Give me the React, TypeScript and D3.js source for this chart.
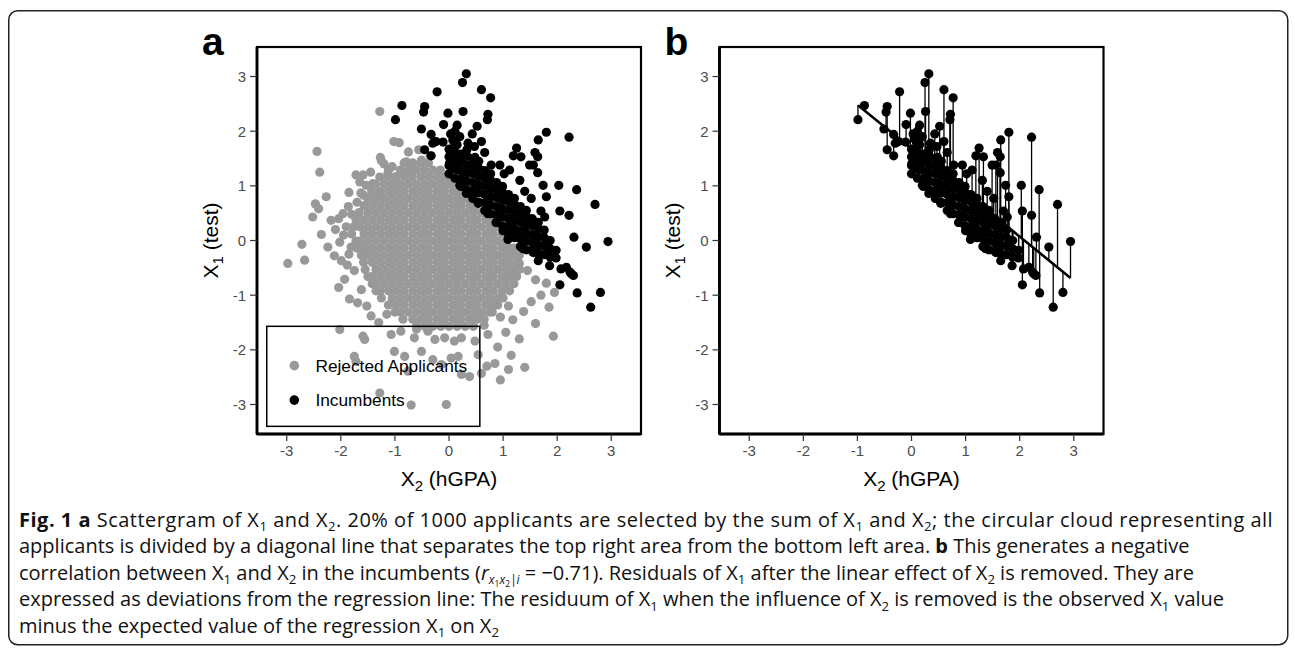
import React from "react";
import * as d3 from "d3";

// ---------- data ----------
const tickValues = [-3, -2, -1, 0, 1, 2, 3];
const legendLabels = ["Rejected Applicants", "Incumbents"];
const seriesColors = ["#999999", "#000000"];

// incumbents: [X2 (hGPA), X1 (test)] — scattered points read individually
const incumbentsScatter: [number, number][] = [
  [-0.99, 2.21], [-0.87, 2.47], [-0.45, 2.45], [-0.47, 2.35], [-0.22, 2.72], [0.32, 3.05], [0.25, 2.89],
  [0.6, 2.76], [0.77, 2.61], [-0.02, 2.33], [0.26, 2.36], [0.72, 2.31], [0.71, 2.21], [-0.1, 2.12],
  [0.15, 2.11], [-0.51, 2.04], [-0.33, 1.94], [0.52, 2.09], [-0.45, 1.66], [-0.33, 1.55], [0.01, 1.42],
  [0.07, 1.84], [0.2, 1.9], [-0.24, 1.81], [-0.11, 1.8], [0.17, 1.29], [1.8, 1.98], [2.22, 1.89],
  [1.65, 1.84], [1.25, 1.69], [1.59, 1.61], [1.19, 1.55], [1.33, 1.53], [1.64, 1.53], [1.56, 1.38],
  [1.64, 1.24], [0.94, 1.38], [1.12, 1.29], [1.31, 1.1], [1.74, 1.01], [2.03, 1.01], [2.36, 0.93],
  [2.7, 0.66], [2.05, 0.54], [2.22, 0.46], [2.94, -0.02], [2.54, -0.12], [2.31, 0.06], [2.05, -0.81],
  [2.37, -0.96], [2.8, -0.95], [2.62, -1.22], [1.52, 0.77], [1.8, 0.8], [1.7, 0.54], [1.37, -0.15],
  [1.56, -0.22], [1.65, -0.37], [1.86, -0.46], [2.17, -0.49], [2.26, -0.61], [1.15, 0.13], [1.09, 0.02],
  [0.2, 1.01], [0.32, 0.86], [0.54, 0.68], [0.72, 0.49], [0.87, 0.33], [1.0, 0.18], [1.22, 0.06],
  [1.34, -0.12], [-0.3, 1.78], [0.15, 1.75], [0.6, 1.81], [0.66, 1.61], [0.2, 1.52], [0.48, 1.52],
  [0.13, 1.41], [0.78, 1.38], [1.49, 1.38], [1.77, 0.43], [2.07, -0.52], [2.24, -0.58], [2.3, -0.64],
  [0.35, 1.78], [0.47, 1.72], [0.03, 1.95], [0.11, 2.0], [0.43, 1.95], [1.02, 1.22], [1.4, 0.9],
];

// incumbents in the dense band, read column by column: [X2, X1 values]
const incumbentsBand: [number, number[]][] = [
  [0.0, [1.22, 1.37, 1.53, 1.67]],
  [0.11, [1.14, 1.31, 1.46, 1.62, 1.76]],
  [0.22, [0.99, 1.13, 1.28, 1.44, 1.58]],
  [0.33, [0.93, 1.09, 1.24, 1.39, 1.55, 1.66]],
  [0.44, [0.77, 0.91, 1.06, 1.22, 1.36, 1.5]],
  [0.55, [0.7, 0.87, 1.02, 1.17, 1.32, 1.45]],
  [0.66, [0.55, 0.69, 0.84, 0.99, 1.14, 1.28]],
  [0.77, [0.49, 0.65, 0.8, 0.95, 1.1, 1.22]],
  [0.88, [0.33, 0.47, 0.62, 0.78, 0.92, 1.06]],
  [0.99, [0.27, 0.43, 0.58, 0.73, 0.88, 0.99]],
  [1.1, [0.11, 0.25, 0.4, 0.55, 0.71, 0.84]],
  [1.21, [0.05, 0.21, 0.36, 0.51, 0.66, 0.77]],
  [1.32, [-0.11, 0.03, 0.18, 0.34, 0.48, 0.62]],
  [1.43, [-0.17, -0.01, 0.14, 0.29, 0.44, 0.55]],
  [1.54, [-0.19, -0.04, 0.11, 0.27, 0.4]],
  [1.65, [-0.23, -0.08, 0.07, 0.22, 0.33]],
  [1.76, [-0.26, -0.1, 0.05, 0.19]],
  [1.87, [-0.3, -0.15, 0.0]],
  [1.98, [-0.32, -0.18]],
];

// rejected applicants, scattered points: [X2, X1]
const rejectedScatter: [number, number][] = [
  [-1.28, 2.36], [-2.44, 1.63], [-2.39, 1.25], [-1.27, 1.52], [-1.25, 1.46], [-1.02, 1.81], [-0.92, 1.79],
  [-0.75, 1.62], [-0.56, 1.66], [-0.79, 1.44], [-0.51, 1.47], [-2.27, 0.8], [-2.47, 0.67], [-2.41, 0.58],
  [-1.85, 0.88], [-1.72, 1.2], [-1.59, 1.2], [-1.65, 1.07], [-1.53, 1.01], [-1.58, 0.83], [-1.63, 0.87],
  [-1.41, 1.04], [-1.28, 0.89], [-1.13, 1.23], [-0.98, 1.17], [-0.82, 1.2], [-0.67, 1.26], [-2.52, 0.43],
  [-2.18, 0.37], [-2.04, 0.4], [-1.96, 0.49], [-1.8, 0.48], [-2.36, 0.11], [-2.72, -0.07], [-2.02, -0.03],
  [-1.81, -0.12], [-2.24, -0.12], [-2.98, -0.42], [-2.67, -0.36], [-2.12, -0.28], [-1.99, -0.37],
  [-2.04, -0.86], [-1.93, -0.71], [-1.84, -1.07], [-1.69, -1.14], [-1.44, -1.38], [-2.02, -1.63],
  [-1.59, -1.75], [-1.56, -1.81], [-1.75, -2.12], [-1.72, -2.21], [-1.28, -2.79], [-1.07, -1.72],
  [-1.01, -2.03], [-0.82, -2.12], [-0.76, -2.39], [-0.7, -3.01], [-0.51, -2.03], [-0.3, -2.18],
  [-0.14, -2.27], [-0.05, -3.0], [-0.89, -1.66], [-0.64, -1.78], [-0.39, -1.66], [-0.26, -1.81],
  [-0.08, -1.78], [0.1, -1.84], [0.23, -1.78], [0.04, -2.15], [0.17, -2.12], [0.23, -2.45], [0.38, -2.49],
  [0.6, -2.43], [0.48, -1.84], [0.54, -2.09], [0.72, -1.72], [0.7, -2.3], [1.3, -0.42], [1.45, -0.55],
  [1.6, -0.72], [1.8, -0.78], [1.95, -0.95], [1.7, -1.0], [1.52, -1.12], [1.85, -1.22], [1.38, -1.3],
  [1.18, -1.45], [1.6, -1.52], [1.93, -1.75], [1.05, -1.68], [1.3, -1.8], [0.9, -1.95], [1.15, -2.1],
  [0.85, -2.25], [1.1, -2.36], [1.4, -2.32], [0.95, -2.55], [-1.75, -0.55], [-1.88, -0.45],
  [-1.62, -0.9], [-1.52, -1.2], [-1.3, -1.5], [-1.15, -1.35], [-1.9, 0.25], [-1.95, 0.1], [-2.1, 0.2],
  [-0.35, 1.55], [-1.05, 1.35], [-1.86, 0.62], [-1.7, 0.7], [-1.2, 1.4], [-0.6, -1.62], [0.65, -1.55],
  [0.95, -1.4], [1.1, -1.2], [-1.85, -0.25], [-1.45, 1.25],
];

// rejected applicants, dense core read row by row: [X1, X2 values]
const rejectedCoreRows: [number, number[]][] = [
  [1.42, [-0.83, -0.67, -0.52, -0.38]],
  [1.29, [-1.12, -0.9, -0.75, -0.6, -0.45, -0.3, -0.16]],
  [1.16, [-1.28, -1.13, -0.97, -0.82, -0.68, -0.52, -0.37, -0.22, -0.08, 0.02]],
  [1.03, [-1.36, -1.2, -1.05, -0.9, -0.75, -0.6, -0.45, -0.3, -0.15, 0.0, 0.12]],
  [0.9, [-1.43, -1.27, -1.12, -0.98, -0.83, -0.67, -0.52, -0.38, -0.22, -0.08, 0.08, 0.22]],
  [0.77, [-1.5, -1.35, -1.2, -1.05, -0.9, -0.75, -0.6, -0.45, -0.3, -0.15, 0.0, 0.15, 0.3, 0.38]],
  [0.64, [-1.57, -1.42, -1.27, -1.12, -0.98, -0.83, -0.67, -0.52, -0.38, -0.22, -0.08, 0.08, 0.22, 0.38, 0.5]],
  [0.51, [-1.66, -1.5, -1.35, -1.2, -1.05, -0.9, -0.75, -0.6, -0.45, -0.3, -0.15, 0.0, 0.15, 0.3, 0.45, 0.6]],
  [0.38, [-1.72, -1.57, -1.42, -1.27, -1.12, -0.98, -0.83, -0.67, -0.52, -0.38, -0.22, -0.08, 0.08, 0.22, 0.38, 0.52, 0.68, 0.76]],
  [0.25, [-1.76, -1.65, -1.5, -1.35, -1.2, -1.05, -0.9, -0.75, -0.6, -0.45, -0.3, -0.15, 0.0, 0.15, 0.3, 0.45, 0.6, 0.75, 0.88]],
  [0.12, [-1.8, -1.57, -1.42, -1.27, -1.12, -0.98, -0.83, -0.67, -0.52, -0.38, -0.22, -0.08, 0.08, 0.22, 0.38, 0.52, 0.68, 0.82, 0.98]],
  [-0.01, [-1.72, -1.65, -1.5, -1.35, -1.2, -1.05, -0.9, -0.75, -0.6, -0.45, -0.3, -0.15, 0.0, 0.15, 0.3, 0.45, 0.6, 0.75, 0.9, 1.05]],
  [-0.14, [-1.7, -1.57, -1.42, -1.27, -1.12, -0.98, -0.83, -0.67, -0.52, -0.38, -0.22, -0.08, 0.08, 0.22, 0.38, 0.52, 0.68, 0.82, 0.98, 1.12, 1.2]],
  [-0.27, [-1.62, -1.5, -1.35, -1.2, -1.05, -0.9, -0.75, -0.6, -0.45, -0.3, -0.15, 0.0, 0.15, 0.3, 0.45, 0.6, 0.75, 0.9, 1.05, 1.2, 1.3]],
  [-0.4, [-1.58, -1.42, -1.27, -1.12, -0.98, -0.83, -0.67, -0.52, -0.38, -0.22, -0.08, 0.08, 0.22, 0.38, 0.52, 0.68, 0.82, 0.98, 1.12, 1.27]],
  [-0.53, [-1.55, -1.35, -1.2, -1.05, -0.9, -0.75, -0.6, -0.45, -0.3, -0.15, 0.0, 0.15, 0.3, 0.45, 0.6, 0.75, 0.9, 1.05, 1.2, 1.3]],
  [-0.66, [-1.5, -1.42, -1.27, -1.12, -0.98, -0.83, -0.67, -0.52, -0.38, -0.22, -0.08, 0.08, 0.22, 0.38, 0.52, 0.68, 0.82, 0.98, 1.12, 1.25]],
  [-0.79, [-1.42, -1.35, -1.2, -1.05, -0.9, -0.75, -0.6, -0.45, -0.3, -0.15, 0.0, 0.15, 0.3, 0.45, 0.6, 0.75, 0.9, 1.05, 1.2]],
  [-0.92, [-1.35, -1.27, -1.12, -0.98, -0.83, -0.67, -0.52, -0.38, -0.22, -0.08, 0.08, 0.22, 0.38, 0.52, 0.68, 0.82, 0.98, 1.12]],
  [-1.05, [-1.25, -1.05, -0.9, -0.75, -0.6, -0.45, -0.3, -0.15, 0.0, 0.15, 0.3, 0.45, 0.6, 0.75, 0.9, 1.0]],
  [-1.18, [-1.12, -0.98, -0.83, -0.67, -0.52, -0.38, -0.22, -0.08, 0.08, 0.22, 0.38, 0.52, 0.68, 0.82, 0.9]],
  [-1.31, [-1.0, -0.9, -0.75, -0.6, -0.45, -0.3, -0.15, 0.0, 0.15, 0.3, 0.45, 0.6, 0.75, 0.8]],
  [-1.44, [-0.85, -0.67, -0.52, -0.38, -0.22, -0.08, 0.08, 0.22, 0.38, 0.52, 0.65]],
  [-1.57, [-0.6, -0.45, -0.3, -0.15, 0.0, 0.15, 0.3, 0.45]],
];

// caption, as [text, style] runs; n normal, b bold, s subscript, i italic, is italic subscript, ss sub-subscript
type Run = [string, string];
const captionLines: Run[][] = [
  [["Fig. 1 a", "b"], [" Scattergram of X", "n"], ["1", "s"], [" and X", "n"], ["2", "s"],
   [". 20% of 1000 applicants are selected by the sum of X", "n"], ["1", "s"], [" and X", "n"], ["2", "s"],
   ["; the circular cloud representing all", "n"]],
  [["applicants is divided by a diagonal line that separates the top right area from the bottom left area. ", "n"],
   ["b", "b"], [" This generates a negative", "n"]],
  [["correlation between X", "n"], ["1", "s"], [" and X", "n"], ["2", "s"], [" in the incumbents (", "n"],
   ["r", "i"], ["x", "is"], ["1", "ss"], ["x", "is"], ["2", "ss"], ["|i", "is"],
   [" = \u22120.71). Residuals of X", "n"], ["1", "s"], [" after the linear effect of X", "n"], ["2", "s"],
   [" is removed. They are", "n"]],
  [["expressed as deviations from the regression line: The residuum of X", "n"], ["1", "s"],
   [" when the influence of X", "n"], ["2", "s"], [" is removed is the observed X", "n"], ["1", "s"], [" value", "n"]],
  [["minus the expected value of the regression X", "n"], ["1", "s"], [" on X", "n"], ["2", "s"]],
];
const captionLetterSpacing = [0.5, 0, 0, 0, 0];

// ---------- layout ----------
const W = 1295;
const H = 649;
const TOP = 47;
const BOTTOM = 434;
const PANEL_W = 384;
const PANELS = [257, 719.5];
const AXIS_FONT = "'Liberation Sans', Arial, sans-serif";
const CAPTION_FONT = "'Open Sans', 'Noto Sans', sans-serif";
const CAPTION_SIZE = 20;

const rejected: [number, number][] = [
  ...rejectedCoreRows.flatMap(([x1, xs]) => xs.map((x2) => [x2, x1] as [number, number])),
  ...rejectedScatter,
];
const incumbents: [number, number][] = [
  ...incumbentsBand.flatMap(([x2, ys]) => ys.map((x1) => [x2, x1] as [number, number])),
  ...incumbentsScatter,
];

function regression(pts: [number, number][]) {
  const mx = d3.mean(pts, (d) => d[0]) as number;
  const my = d3.mean(pts, (d) => d[1]) as number;
  const sxy = d3.sum(pts, (d) => (d[0] - mx) * (d[1] - my));
  const sxx = d3.sum(pts, (d) => (d[0] - mx) ** 2);
  const b = sxy / sxx;
  return { a: my - b * mx, b };
}

function Panel({ left, label, mode }: { left: number; label: string; mode: "a" | "b" }) {
  const x = d3.scaleLinear().domain([-3.55, 3.55]).range([left, left + PANEL_W]);
  const y = d3.scaleLinear().domain([-3.54, 3.54]).range([BOTTOM, TOP]);
  const r = 4.6;
  const reg = regression(incumbents);
  const [xmin, xmax] = d3.extent(incumbents, (d) => d[0]) as [number, number];
  const line = d3.line<number>().x((v) => x(v)).y((v) => y(reg.a + reg.b * v));
  const cx = left + PANEL_W / 2;
  return (
    <g>
      <text x={left - 55} y={55} fontFamily={AXIS_FONT} fontWeight="bold" fontSize={39}>
        {label}
      </text>
      {mode === "a" &&
        rejected.map((d, i) => <circle key={"g" + i} cx={x(d[0])} cy={y(d[1])} r={r} fill={seriesColors[0]} />)}
      {mode === "b" &&
        incumbents.map((d, i) => (
          <line
            key={"s" + i}
            x1={x(d[0])}
            x2={x(d[0])}
            y1={y(d[1])}
            y2={y(reg.a + reg.b * d[0])}
            stroke="#000"
            strokeWidth={1.3}
          />
        ))}
      {mode === "b" && <path d={line([xmin, xmax]) || ""} stroke="#000" strokeWidth={2.6} fill="none" />}
      {incumbents.map((d, i) => (
        <circle key={"k" + i} cx={x(d[0])} cy={y(d[1])} r={r} fill={seriesColors[1]} />
      ))}
      {mode === "a" && (
        <g fontFamily={AXIS_FONT} fontSize={17.3}>
          <rect x={x(-3.37)} y={y(-1.57)} width={x(0.57) - x(-3.37)} height={y(-3.4) - y(-1.57)} fill="none" stroke="#000" strokeWidth={1.5} />
          <circle cx={x(-2.86)} cy={y(-2.29)} r={4.8} fill={seriesColors[0]} />
          <text x={x(-2.47)} y={y(-2.29) + 6.3}>{legendLabels[0]}</text>
          <circle cx={x(-2.86)} cy={y(-2.92)} r={4.8} fill={seriesColors[1]} />
          <text x={x(-2.47)} y={y(-2.92) + 6.3}>{legendLabels[1]}</text>
        </g>
      )}
      <rect x={left} y={TOP} width={PANEL_W} height={BOTTOM - TOP} fill="none" stroke="#000" strokeWidth={2.2} />
      <line x1={left} x2={left} y1={TOP} y2={BOTTOM} stroke="#000" strokeWidth={2.8} />
      <line x1={left} x2={left + PANEL_W} y1={BOTTOM} y2={BOTTOM} stroke="#000" strokeWidth={2.8} />
      <g fontFamily={AXIS_FONT} fontSize={15} fill="#4D4D4D">
        {tickValues.map((t) => (
          <g key={"y" + t}>
            <line x1={left - 7} x2={left} y1={y(t)} y2={y(t)} stroke="#333" strokeWidth={1.2} />
            <text x={left - 11} y={y(t)} dy="0.36em" textAnchor="end">{String(t)}</text>
          </g>
        ))}
        {tickValues.map((t) => (
          <g key={"x" + t}>
            <line x1={x(t)} x2={x(t)} y1={BOTTOM} y2={BOTTOM + 7} stroke="#333" strokeWidth={1.2} />
            <text x={x(t)} y={456} textAnchor="middle">{String(t)}</text>
          </g>
        ))}
      </g>
      <g fontFamily={AXIS_FONT} fontSize={21} fill="#000">
        <text x={cx} y={486} textAnchor="middle">
          X<tspan fontSize={15} dy={5}>2</tspan>
          <tspan dy={-5}> (hGPA)</tspan>
        </text>
        <text transform={`translate(${left - 39.5},240.5) rotate(-90)`} textAnchor="middle">
          X<tspan fontSize={15} dy={5}>1</tspan>
          <tspan dy={-5}> (test)</tspan>
        </text>
      </g>
    </g>
  );
}

const runStyle: Record<string, { off: number; size: number; bold?: boolean; italic?: boolean }> = {
  n: { off: 0, size: 1 },
  b: { off: 0, size: 1, bold: true },
  i: { off: 0, size: 1, italic: true },
  s: { off: 4.5, size: 0.66 },
  is: { off: 4.5, size: 0.6, italic: true },
  ss: { off: 7, size: 0.42 },
};

function CaptionLine({ runs, x, y, ls }: { runs: Run[]; x: number; y: number; ls: number }) {
  let cur = 0;
  return (
    <text x={x} y={y} letterSpacing={ls}>
      {runs.map(([t, st], i) => {
        const s = runStyle[st];
        const dy = s.off - cur;
        cur = s.off;
        return (
          <tspan
            key={i}
            dy={dy || undefined}
            fontSize={CAPTION_SIZE * s.size}
            fontWeight={s.bold ? "bold" : undefined}
            fontStyle={s.italic ? "italic" : undefined}
          >
            {t}
          </tspan>
        );
      })}
    </text>
  );
}

function Caption() {
  const x0 = 19;
  const base = 526.5;
  const lh = 26.6;
  return (
    <g fontFamily={CAPTION_FONT} fontSize={CAPTION_SIZE} fill="#111" style={{ whiteSpace: "pre" }}>
      {captionLines.map((runs, i) => (
        <CaptionLine key={i} runs={runs} x={x0} y={base + i * lh} ls={captionLetterSpacing[i]} />
      ))}
    </g>
  );
}

export default function App() {
  return (
    <svg
      width={W}
      height={H}
      viewBox={`0 0 ${W} ${H}`}
      style={{ position: "absolute", left: 0, top: 0, display: "block", background: "#fff" }}
    >
      <rect x={8.75} y={10.75} width={1279} height={634} rx={9} fill="#fff" stroke="#222" strokeWidth={1.5} />
      <Panel left={PANELS[0]} label="a" mode="a" />
      <Panel left={PANELS[1]} label="b" mode="b" />
      <Caption />
    </svg>
  );
}
